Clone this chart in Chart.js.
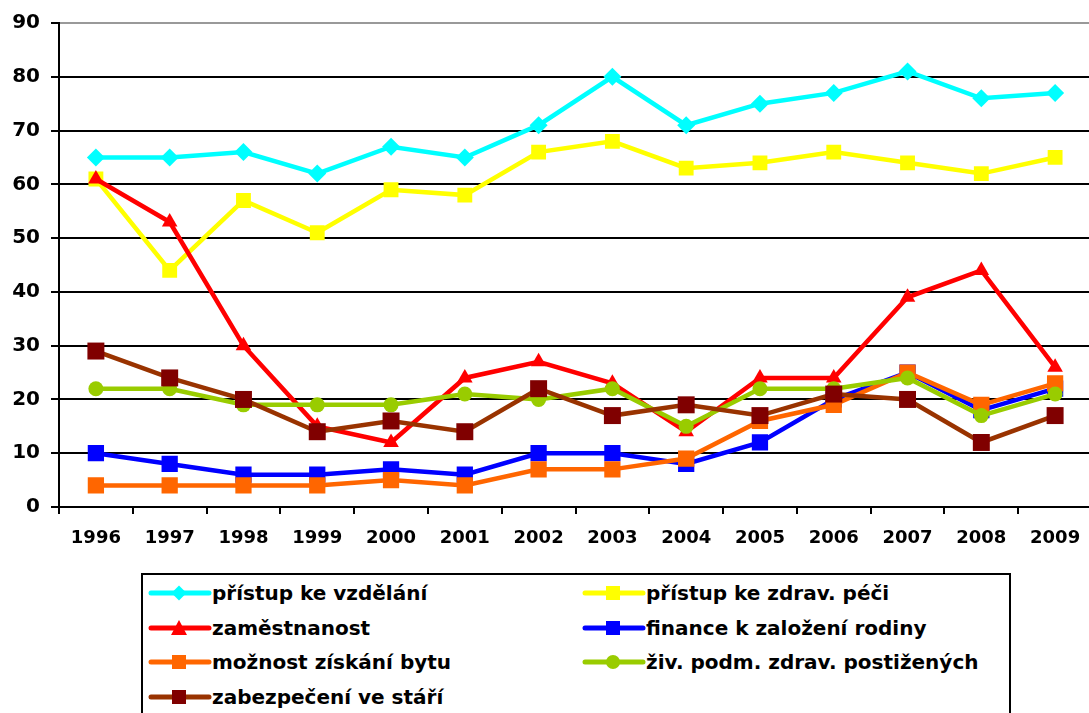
<!DOCTYPE html>
<html>
<head>
<meta charset="utf-8">
<script src="https://cdn.jsdelivr.net/npm/chart.js@4.4.0/dist/chart.umd.min.js"></script>
<style>
  body { margin: 0; background: #fff; overflow: hidden; width: 1089px; height: 713px; position: relative; }
  #wrap { position: absolute; left: 0; top: 0; width: 1104px; height: 560px; }
  #legend { position: absolute; left: 141px; top: 573px; width: 866px; height: 160px; border: 2px solid #000; background: #fff;
            font-family: "DejaVu Sans", Verdana, sans-serif; font-weight: bold; font-size: 20px; color: #000; }
  .item { position: absolute; height: 30px; line-height: 30px; white-space: nowrap; }
  .item svg { position: absolute; left: 0; top: 0; }
  .item span { position: absolute; left: 67px; top: 0; }
</style>
</head>
<body>
<div id="wrap"><canvas id="chart" width="1104" height="560"></canvas></div>
<div id="legend"></div>
<script>
// data
const years = ["1996","1997","1998","1999","2000","2001","2002","2003","2004","2005","2006","2007","2008","2009"];

const vzdelani   = [65,65,66,62,67,65,71,80,71,75,77,81,76,77];
const zdravPece  = [61,44,57,51,59,58,66,68,63,64,66,64,62,65];
const zamestnan  = [61,53,30,15,12,24,27,23,14,24,24,39,44,26];
const finance    = [10,8,6,6,7,6,10,10,8,12,20,25,18,22];
const byt        = [4,4,4,4,5,4,7,7,9,16,19,25,19,23];
const zivPodm    = [22,22,19,19,19,21,20,22,15,22,22,24,17,21];
const stari      = [29,24,20,14,16,14,22,17,19,17,21,20,12,17];

const seriesNames = ["přístup ke vzdělání","přístup ke zdrav. péči","zaměstnanost","finance k založení rodiny","možnost získání bytu","živ. podm. zdrav. postižených","zabezpečení ve stáří"];
const seriesData = [vzdelani, zdravPece, zamestnan, finance, byt, zivPodm, stari];
const lineColors = ["#00FFFF","#FFFF00","#FF0000","#0000FF","#FF6600","#99CC00","#993300"];
const markColors = ["#00FFFF","#FFFF00","#FF0000","#0000FF","#FF6600","#99CC00","#800000"];
const markStyles = ["rectRot","rect","triangle","rect","rect","circle","rect"];
const markRadius = [9, 10.5, 9, 11.5, 11.5, 7.5, 12];

const yTicks = [0,10,20,30,40,50,60,70,80,90];

const FONT = "'DejaVu Sans', Verdana, sans-serif";

let datasets = seriesNames.map((name, i) => ({
    label: name,
    data: seriesData[i],
    borderColor: lineColors[i],
    backgroundColor: markColors[i],
    borderWidth: 4.5,
    pointStyle: markStyles[i],
    pointRadius: markRadius[i],
    pointBorderWidth: 0,
    pointBackgroundColor: markColors[i],
    pointBorderColor: markColors[i],
    tension: 0,
    order: seriesNames.length - i  // later series drawn on top, like the original
}));

new Chart(document.getElementById("chart"), {
    type: 'line',
    data: { labels: years, datasets: datasets },
    options: {
        responsive: false,
        devicePixelRatio: 1,
        animation: false,
        layout: { padding: { top: 19, left: 0, right: 0, bottom: 0 } },
        plugins: { legend: { display: false }, tooltip: { enabled: false } },
        scales: {
            x: {
                offset: true,
                grid: { display: true, drawOnChartArea: false, drawTicks: true, tickLength: 7, color: "#000", lineWidth: 2, offset: true },
                border: { display: true, color: "#000", width: 2 },
                ticks: { color: "#000", font: { family: FONT, weight: "bold", size: 18 }, padding: 14, maxRotation: 0, autoSkip: false },
                afterFit: scale => { scale.height = 53; }
            },
            y: {
                min: 0, max: 90,
                afterBuildTicks: scale => { scale.ticks = yTicks.map(v => ({ value: v })); },
                grid: { color: ctx => ctx.tick && ctx.tick.value === 90 ? "#999" : "#000", lineWidth: 2, tickLength: 8, tickColor: "#000" },
                border: { display: true, color: "#000", width: 2 },
                ticks: { color: "#000", font: { family: FONT, weight: "bold", size: 20 }, padding: 11 },
                afterFit: scale => { scale.width = 59; }
            }
        }
    }
});

// legend box drawn as html, two columns
function markerSvg(i) {
    let c = markColors[i], s = "";
    const cx = 34, cy = 15;
    if (markStyles[i] === "rectRot") s = `<polygon points="${cx-7.5},${cy} ${cx},${cy-7.5} ${cx+7.5},${cy} ${cx},${cy+7.5}" fill="${c}"/>`;
    else if (markStyles[i] === "triangle") s = `<polygon points="${cx-8},${cy+7} ${cx},${cy-8} ${cx+8},${cy+7}" fill="${c}"/>`;
    else if (markStyles[i] === "circle") s = `<circle cx="${cx}" cy="${cy}" r="7" fill="${c}"/>`;
    else s = `<rect x="${cx-7}" y="${cy-7}" width="14" height="14" fill="${c}"/>`;
    return `<svg width="67" height="30"><line x1="6" y1="${cy}" x2="64" y2="${cy}" stroke="${lineColors[i]}" stroke-width="5" stroke-linecap="round"/>${s}</svg>`;
}

const legend = document.getElementById("legend");
const colX = [2, 436];
const rowY = [3, 38, 72, 107];
seriesNames.forEach((name, i) => {
    let d = document.createElement("div");
    d.className = "item";
    d.style.left = colX[i % 2] + "px";
    d.style.top = rowY[Math.floor(i / 2)] + "px";
    d.innerHTML = markerSvg(i) + `<span>${name}</span>`;
    legend.appendChild(d);
});
</script>
</body>
</html>
